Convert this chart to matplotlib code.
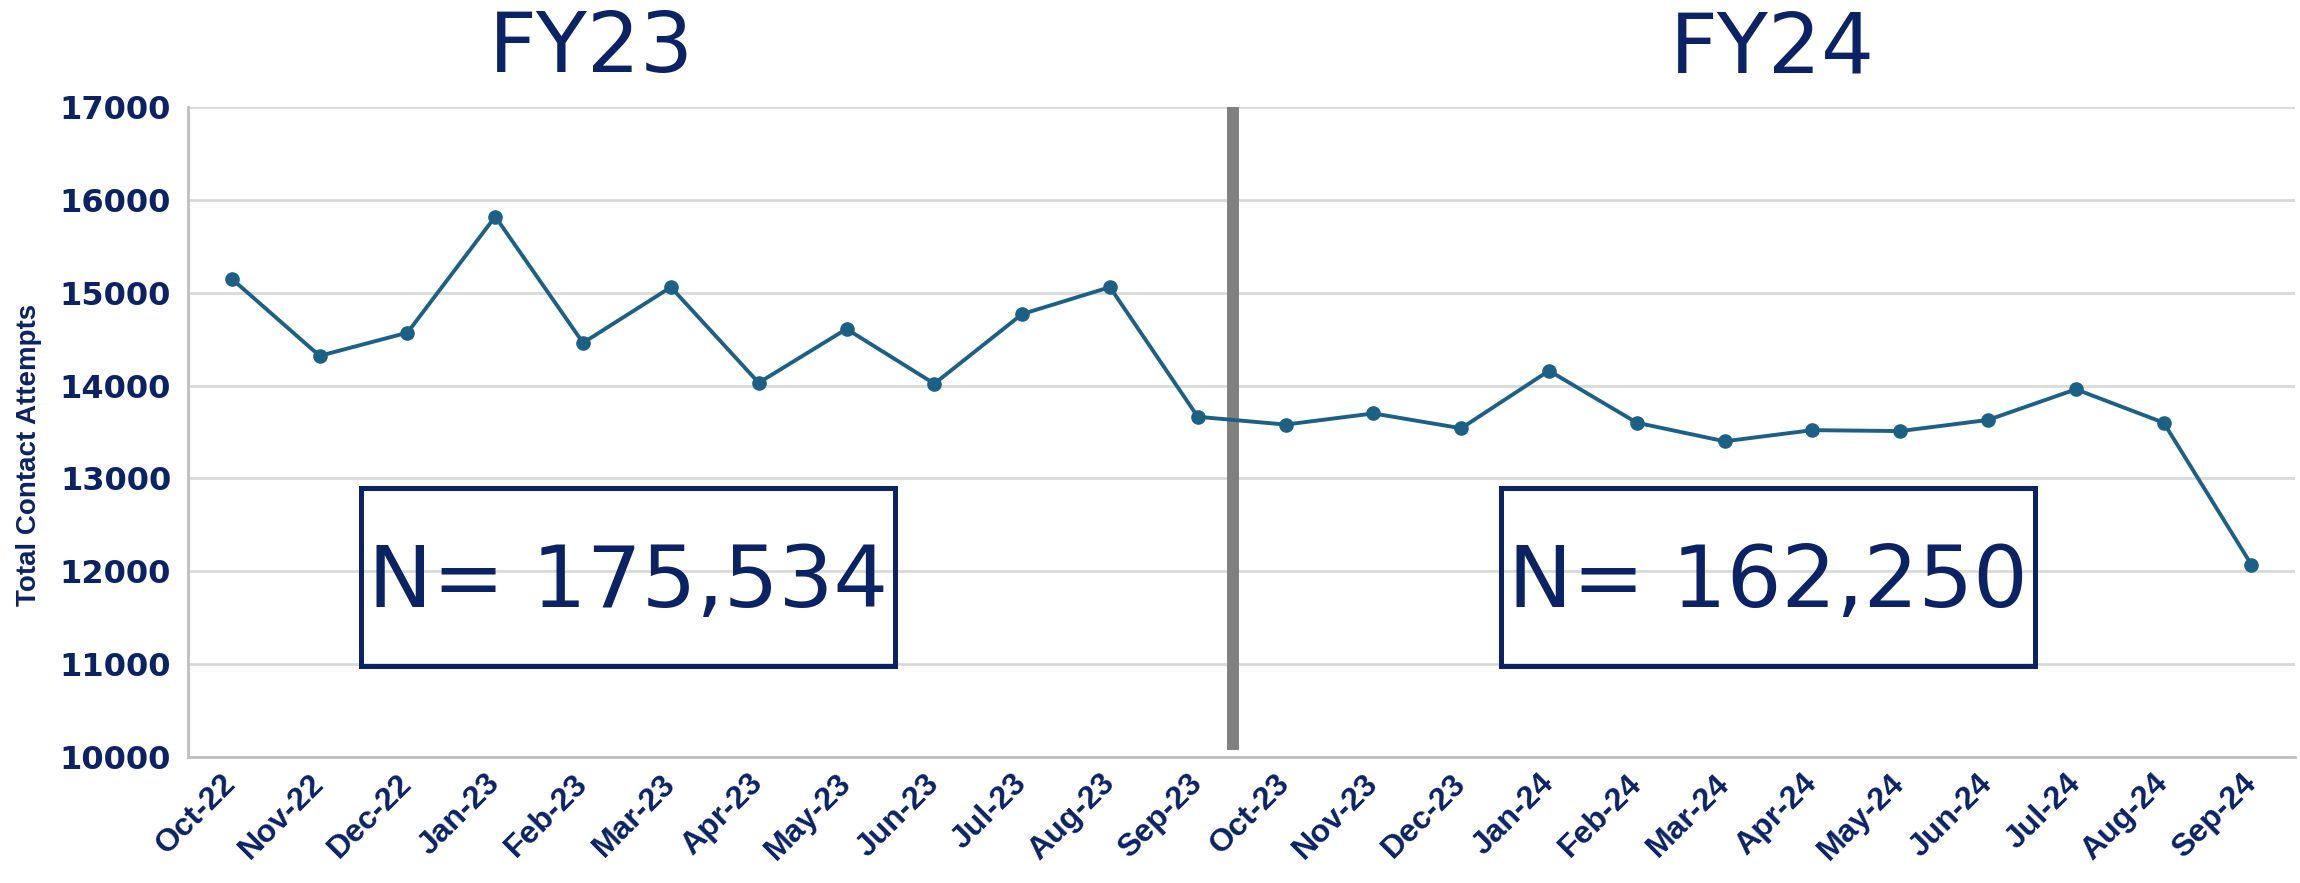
import matplotlib
matplotlib.use("Agg")
import matplotlib.pyplot as plt
from matplotlib.patches import Rectangle
from matplotlib.transforms import blended_transform_factory

months = ["Oct-22", "Nov-22", "Dec-22", "Jan-23", "Feb-23", "Mar-23", "Apr-23", "May-23",
          "Jun-23", "Jul-23", "Aug-23", "Sep-23", "Oct-23", "Nov-23", "Dec-23", "Jan-24",
          "Feb-24", "Mar-24", "Apr-24", "May-24", "Jun-24", "Jul-24", "Aug-24", "Sep-24"]
attempts = [15150, 14320, 14570, 15820, 14460, 15060, 14030, 14610, 14020, 14770, 15060, 13664,
            13580, 13700, 13540, 14160, 13600, 13400, 13520, 13510, 13630, 13960, 13600, 12070]
yticks = [10000, 11000, 12000, 13000, 14000, 15000, 16000, 17000]
fy_labels = ["FY23", "FY24"]
n_labels = ["N= 175,534", "N= 162,250"]

NAVY = "#0b2264"
LINE = "#1c6185"

fig = plt.figure(figsize=(23, 8.83), dpi=100)
ax = fig.add_axes([0.0817, 0.1427, 0.9163, 0.7361])

x = list(range(len(months)))
ax.set_xlim(-0.5, len(months) - 0.5)
ax.set_ylim(10000, 17000)
ax.set_yticks(yticks)
ax.yaxis.grid(True, color="#d9d9d9", linewidth=2)
ax.set_axisbelow(True)
for s in ["top", "right"]:
    ax.spines[s].set_visible(False)
for s in ["left", "bottom"]:
    ax.spines[s].set_color("#bfbfbf")
    ax.spines[s].set_linewidth(2)

# divider between fiscal years
ax.plot([11.4, 11.4], [10070, 17000], color="#808080", linewidth=8.6, solid_capstyle="butt", zorder=2)

ax.plot(x, attempts, color=LINE, linewidth=2.8, marker="o", markersize=9.5, zorder=3)

ax.set_xticks(x)
ax.set_xticklabels(months, rotation=45, ha="right", va="center", rotation_mode="anchor",
                   fontsize=23, fontweight="bold", color=NAVY, family="Liberation Sans")
ax.tick_params(axis="x", length=0, pad=16)
ax.tick_params(axis="y", length=0, pad=12)
for lab in ax.get_yticklabels():
    lab.set_fontsize(23)
    lab.set_fontweight("bold")
    lab.set_color(NAVY)
    lab.set_family("DejaVu Sans")

ax.set_ylabel("Total Contact Attempts", fontsize=20, fontweight="bold", color=NAVY,
              family="Liberation Sans")
ax.yaxis.set_label_coords(-0.069, 0.465)

# N boxes
boxes = [(1.47, 7.55), (14.45, 20.54)]
for (x0, x1), lbl in zip(boxes, n_labels):
    ax.add_patch(Rectangle((x0, 10980), x1 - x0, 1913, fill=False, edgecolor=NAVY,
                           linewidth=3.6, zorder=4))
    ax.text((x0 + x1) / 2, 11870, lbl, ha="center", va="center", fontsize=62,
            color=NAVY, family="DejaVu Sans", zorder=5)

# FY titles
tr = blended_transform_factory(ax.transData, fig.transFigure)
for xc, lbl in zip([4.09, 17.54], fy_labels):
    ax.text(xc, 0.945, lbl, transform=tr, ha="center", va="center", fontsize=60,
            color=NAVY, family="DejaVu Sans")

fig.savefig("out.png", dpi=100)
